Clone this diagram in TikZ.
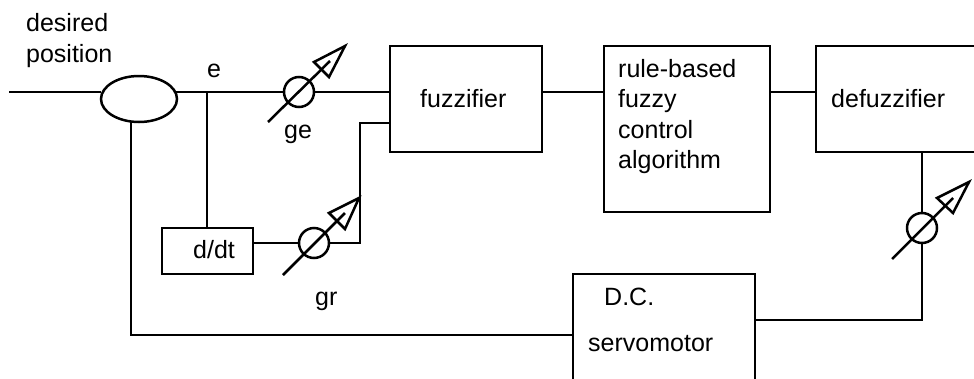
\documentclass[tikz,border=0pt]{standalone}
\usepackage{fontspec}
\setmainfont{Liberation Sans}
\usetikzlibrary{shapes.geometric}
\tikzset{
  x=1pt,y=-1pt,
  wire/.style={line width=2.5pt,black},
  lbl/.style={font=\fontsize{25}{30}\selectfont,inner sep=0pt,anchor=base west},
  sumnode/.style={draw,ellipse,line width=2.5pt,minimum width=76pt,minimum height=46pt,inner sep=0pt,outer sep=0pt},
  gaincircle/.style={draw,circle,line width=2.5pt,minimum size=30pt,inner sep=0pt,outer sep=0pt},
  gainarrow/.style={line width=2.5pt,line join=miter},
  blockbox/.style={draw,line width=2.5pt,inner sep=0pt,outer sep=0pt,anchor=north west}
}
\begin{document}
\begin{tikzpicture}
\clip (0,0) rectangle (974,378);
\node[sumnode] (sum) at (139,99) {};
\node[blockbox,minimum width=152pt,minimum height=106pt] (fuzz) at (390,46) {};
\node[blockbox,minimum width=166pt,minimum height=166pt] (rule) at (604,46) {};
\node[blockbox,minimum width=190pt,minimum height=106pt] (defuzz) at (816,46) {};
\node[blockbox,minimum width=182pt,minimum height=140pt] (servo) at (573,274) {};
\node[blockbox,minimum width=91pt,minimum height=46pt] (ddt) at (162,228) {};
\node[gaincircle] (g1) at (299,92) {};
\node[gaincircle] (g2) at (314,243) {};
\node[gaincircle] (g3) at (922,228) {};
\coordinate (in) at (9,92);
\coordinate (ejoin) at (207,92);
\coordinate (fuzzlow) at (390,123);
\coordinate (corner) at (360,123);
\coordinate (corner2) at (360,243);
\coordinate (fbcorner) at (131,335);
\coordinate (outcorner) at (922,320);
\draw[wire] (in) -- (sum.west |- in);
\draw[wire] (176,92) -- (ejoin) -- (g1.west);
\draw[wire] (g1.east) -- (fuzz.west |- g1.east);
\draw[wire] (ejoin) -- (ddt.north -| ejoin);
\draw[wire] (ddt.east |- g2.west) -- (g2.west);
\draw[wire] (g2.east) -- (corner2) -- (corner) -- (fuzzlow);
\draw[wire] (fuzz.east |- 0,92) -- (rule.west |- 0,92);
\draw[wire] (rule.east |- 0,92) -- (defuzz.west |- 0,92);
\draw[wire] (defuzz.south -| g3.north) -- (g3.north);
\draw[wire] (g3.south) -- (outcorner) -- (servo.east |- outcorner);
\draw[wire] (servo.west |- fbcorner) -- (fbcorner) -- (fbcorner |- 0,121);
% gains
\draw[gainarrow] (268,122) -- (330,61);
\draw[gainarrow] (345,46) -- (314,62) -- (329,77) -- cycle;
\draw[gainarrow] (283,275) -- (345,213);
\draw[gainarrow] (359,198) -- (329,213) -- (345,229) -- cycle;
\draw[gainarrow] (892,259) -- (953,198);
\draw[gainarrow] (969,182) -- (937,198) -- (953,213) -- cycle;
% labels
\node[lbl] (t1) at (26,31) {desired};
\node[lbl] (t2) at (26,62) {position};
\node[lbl] (t3) at (207,77) {e};
\node[lbl] (t4) at (284,138) {ge};
\node[lbl] (t5) at (420,107) {fuzzifier};
\node[lbl] (t6) at (618,77) {rule-based};
\node[lbl] (t7) at (618,107) {fuzzy};
\node[lbl] (t8) at (618,138) {control};
\node[lbl] (t9) at (618,168) {algorithm};
\node[lbl] (t10) at (831,107) {defuzzifier};
\node[lbl] (t11) at (193,258) {d/dt};
\node[lbl] (t12) at (315,305) {gr};
\node[lbl] (t13) at (604,305) {D.C.};
\node[lbl] (t14) at (588,351) {servomotor};
\end{tikzpicture}
\end{document}
